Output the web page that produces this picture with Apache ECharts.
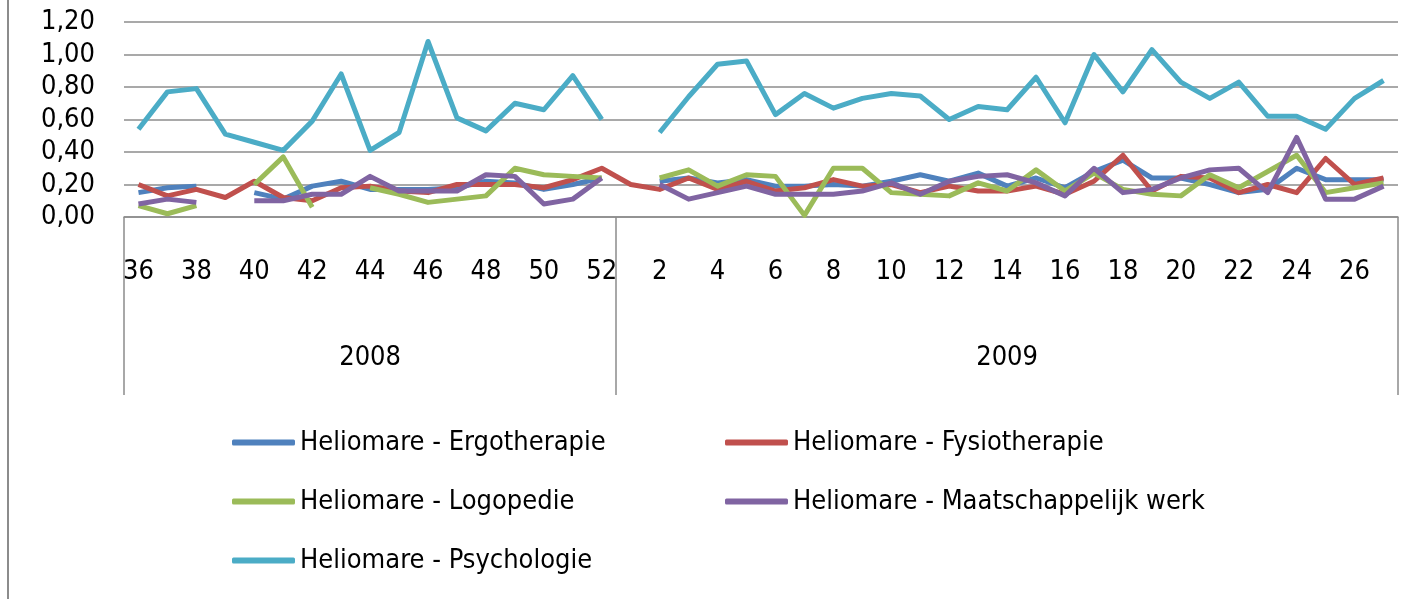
<!DOCTYPE html>
<html>
<head>
<meta charset="utf-8">
<script src="https://cdn.jsdelivr.net/npm/echarts@6/dist/echarts.min.js"></script>
<style>
    html, body {margin: 0; padding: 0; background: #fff;}
    #chart {width: 1413px; height: 599px;}
</style>
</head>
<body>
<div id="chart"></div>
<script>
// weeknummers per jaar
var weeks2008 = [36, 37, 38, 39, 40, 41, 42, 43, 44, 45, 46, 47, 48, 49, 50, 51, 52];
var weeks2009 = [1, 2, 3, 4, 5, 6, 7, 8, 9, 10, 11, 12, 13, 14, 15, 16, 17, 18, 19, 20, 21, 22, 23, 24, 25, 26, 27];
var years = ['2008', '2009'];
var yTicks = [0, 0.2, 0.4, 0.6, 0.8, 1.0, 1.2];

var ergo = [0.15, 0.18, 0.19, null, 0.15, 0.11, 0.19, 0.22, 0.17, 0.17, 0.17, 0.18, 0.22, 0.21, 0.17, 0.20, 0.24,
    null, 0.22, 0.24, 0.21, 0.23, 0.19, 0.19, 0.20, 0.19, 0.22, 0.26, 0.22, 0.27, 0.19, 0.24, 0.18, 0.28, 0.35, 0.24, 0.24, 0.20, 0.15, 0.17, 0.30, 0.23, 0.23, 0.23];
var fysio = [0.20, 0.13, 0.17, 0.12, 0.22, 0.12, 0.10, 0.18, 0.19, 0.16, 0.15, 0.20, 0.20, 0.20, 0.18, 0.23, 0.30,
    0.20, 0.17, 0.24, 0.17, 0.22, 0.16, 0.18, 0.23, 0.19, 0.20, 0.15, 0.19, 0.16, 0.16, 0.19, 0.14, 0.22, 0.38, 0.16, 0.25, 0.24, 0.15, 0.20, 0.15, 0.36, 0.20, 0.24];
var logo = [0.07, 0.02, 0.07, null, 0.20, 0.37, 0.06, null, 0.18, 0.14, 0.09, 0.11, 0.13, 0.30, 0.26, 0.25, 0.24,
    null, 0.24, 0.29, 0.19, 0.26, 0.25, 0.01, 0.30, 0.30, 0.15, 0.14, 0.13, 0.21, 0.16, 0.29, 0.16, 0.27, 0.17, 0.14, 0.13, 0.26, 0.18, 0.28, 0.38, 0.15, 0.18, 0.21];
var maat = [0.08, 0.11, 0.09, null, 0.10, 0.10, 0.14, 0.14, 0.25, 0.16, 0.16, 0.16, 0.26, 0.25, 0.08, 0.11, 0.24,
    null, 0.20, 0.11, 0.15, 0.19, 0.14, 0.14, 0.14, 0.16, 0.21, 0.14, 0.22, 0.25, 0.26, 0.21, 0.13, 0.30, 0.15, 0.17, 0.24, 0.29, 0.30, 0.15, 0.49, 0.11, 0.11, 0.19];
var psych = [0.54, 0.77, 0.79, 0.51, 0.46, 0.41, 0.59, 0.88, 0.41, 0.52, 1.08, 0.61, 0.53, 0.70, 0.66, 0.87, 0.60,
    null, 0.52, 0.74, 0.94, 0.96, 0.63, 0.76, 0.67, 0.73, 0.76, 0.745, 0.60, 0.68, 0.66, 0.86, 0.58, 1.00, 0.77, 1.03, 0.83, 0.73, 0.83, 0.62, 0.62, 0.54, 0.73, 0.84];

var names = ['Heliomare - Ergotherapie', 'Heliomare - Fysiotherapie', 'Heliomare - Logopedie',
    'Heliomare - Maatschappelijk werk', 'Heliomare - Psychologie'];
var colors = ['#4F81BD', '#C0504D', '#9BBB59', '#8064A2', '#4BACC6'];
var values = [ergo, fysio, logo, maat, psych];

var categories = weeks2008.concat(weeks2009).map(String);
var n = categories.length;
var FONT = '"DejaVu Sans Condensed", "Liberation Sans", sans-serif';
var gray = '#8c8c8c';

var chart = echarts.init(document.getElementById('chart'));

var series = [];
for (var i = 0; i < names.length; i++) {
    series.push({
        name: names[i],
        type: 'line',
        data: values[i],
        symbol: 'none',
        connectNulls: false,
        color: colors[i],
        lineStyle: {width: 5, color: colors[i], join: 'round'},
        animation: false
    });
}

function legendBox(items, left) {
    return {
        data: items,
        orient: 'vertical',
        left: left,
        top: 429,
        padding: 0,
        icon: 'roundRect',
        itemWidth: 63,
        itemHeight: 6,
        itemGap: 32,
        textStyle: {fontSize: 27, fontFamily: FONT, color: '#000', padding: [0, 0, 0, 0]}
    };
}

chart.setOption({
    animation: false,
    textStyle: {fontFamily: FONT, color: '#000'},
    grid: {left: 124, right: 15, top: 22, height: 195},
    xAxis: [{
        type: 'category',
        data: categories,
        boundaryGap: true,
        axisLine: {show: true, lineStyle: {color: gray, width: 1.5}},
        axisTick: {show: false},
        axisLabel: {interval: 1, margin: 41, fontSize: 27, fontFamily: FONT, color: '#000'}
    }, {
        // tweede niveau: jaren, met scheidingslijnen
        type: 'value',
        min: 0,
        max: n,
        position: 'bottom',
        axisLine: {show: false},
        splitLine: {show: false},
        axisTick: {
            show: true,
            length: 178,
            customValues: [0, weeks2008.length, n],
            lineStyle: {color: gray, width: 1.5}
        },
        axisLabel: {
            margin: 127,
            fontSize: 27,
            fontFamily: FONT,
            color: '#000',
            customValues: [weeks2008.length / 2, weeks2008.length + weeks2009.length / 2],
            formatter: function (v) {
                return v < weeks2008.length ? years[0] : years[1];
            }
        }
    }],
    yAxis: {
        type: 'value',
        min: yTicks[0],
        max: yTicks[yTicks.length - 1],
        interval: 0.2,
        axisLine: {show: false},
        axisTick: {show: false},
        splitLine: {lineStyle: {color: gray, width: 1.5}},
        axisLabel: {
            margin: 29,
            fontSize: 27,
            fontFamily: FONT,
            color: '#000',
            formatter: function (v) {
                return v.toFixed(2).replace('.', ',');
            }
        }
    },
    legend: [
        legendBox([names[0], names[2], names[4]], 232),
        legendBox([names[1], names[3]], 725)
    ],
    graphic: [{
        type: 'line',
        shape: {x1: 8, y1: 0, x2: 8, y2: 599},
        style: {stroke: gray, lineWidth: 2}
    }],
    series: series
});
</script>
</body>
</html>
